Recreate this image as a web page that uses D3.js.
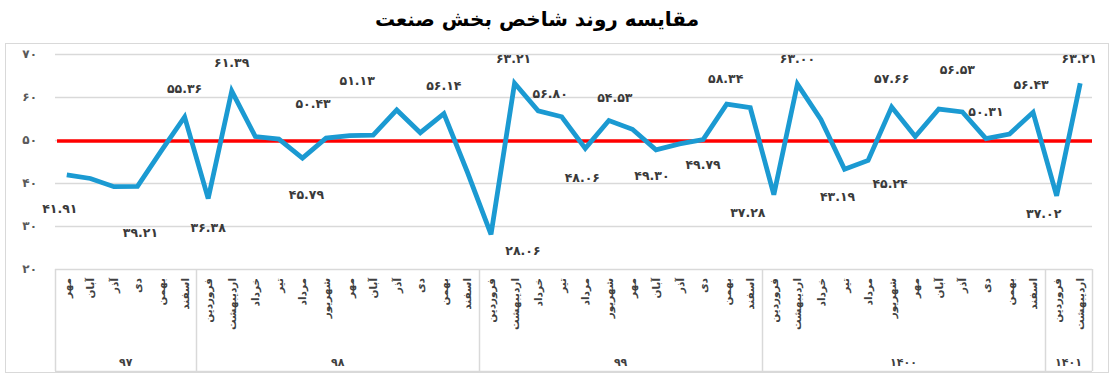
<!DOCTYPE html>
<html>
<head>
<meta charset="utf-8">
<script src="https://cdn.jsdelivr.net/npm/d3@7"></script>
<style>
  body { margin: 0; background: #fff; }
  svg { font-family: "DejaVu Sans", sans-serif; }
</style>
</head>
<body>
<div id="chart"></div>
<script>
// data
var title = "مقایسه روند شاخص بخش صنعت";
var monthNames = ["فروردین", "اردیبهشت", "خرداد", "تیر", "مرداد", "شهریور",
                  "مهر", "آبان", "آذر", "دی", "بهمن", "اسفند"];
var years = ["97", "98", "99", "1400", "1401"];
var yearMonths = [6, 12, 12, 12, 2];   // months shown per year
var yearStart = [6, 0, 0, 0, 0];       // first month index per year

var values = [41.91, 41.05, 39.15, 39.21, 47.4, 55.36,
  36.38, 61.39, 50.8, 50.2, 45.79, 50.43, 51.0, 51.13, 57.0, 51.7, 56.14, 42.5,
  28.06, 63.21, 56.80, 55.4, 48.06, 54.53, 52.5, 47.7, 49.1, 50.1, 58.34, 57.5,
  37.28, 63.00, 54.7, 43.19, 45.24, 57.66, 50.8, 57.2, 56.53, 50.31, 51.4, 56.43,
  37.02, 63.21];
var threshold = 50;
var yTicks = [20, 30, 40, 50, 60, 70];

// data labels: which point, and the text written on the chart
var labelIdx = [0, 3, 5, 6, 7, 10, 11, 13, 16, 18, 19, 20, 22, 23, 25, 27, 28,
                30, 31, 33, 34, 35, 38, 39, 41, 42, 43];
var labelText = ["41.91", "39.21", "55.36", "36.38", "61.39", "45.79", "50.43",
  "51.13", "56.14", "28.06", "63.21", "56.80", "48.06", "54.53", "49.30", "49.79",
  "58.34", "37.28", "63.00", "43.19", "45.24", "57.66", "56.53", "50.31", "56.43",
  "37.02", "63.21"];
// label offsets from their point (layout only)
var labelDx = [-7, 3, 0, 0, 0, 4, -13, -16, 0, 32, -1, 12, -3, 6, -4, 0, -1,
               -26, 0, -7, 22, 0, -5, 0, -2, -13, -1];
var labelDy = [34, 46, -28, 29, -28, 37, -35, -55, -28, 16, -25, -17, 29, -23, 26, 25, -26,
               18, -25, 27, 23, -28, -42, -27, -28, 18, -25];

var fa = function(s) {
  return String(s).replace(/[0-9]/g, function(d) { return "۰۱۲۳۴۵۶۷۸۹"[+d]; });
};

// build categories
var cats = [];
years.forEach(function(y, i) {
  for (var m = 0; m < yearMonths[i]; m++) {
    cats.push({ key: y + "-" + m, year: y, month: monthNames[yearStart[i] + m] });
  }
});
var points = cats.map(function(c, i) { return { key: c.key, value: values[i] }; });

var W = 1119, H = 381;
var plotL = 55, plotR = 1092, plotT = 54, plotB = 269, boxB = 371;

var svg = d3.select("#chart").append("svg")
    .attr("width", W)
    .attr("height", H);

// outer border
svg.append("rect")
    .attr("x", 5.5).attr("y", 43.5)
    .attr("width", 1103).attr("height", 329)
    .attr("fill", "none")
    .attr("stroke", "#d9d9d9");

svg.append("text")
    .attr("x", 537).attr("y", 26)
    .attr("text-anchor", "middle")
    .style("font-size", "20px")
    .style("font-weight", "bold")
    .attr("fill", "#000")
    .text(title);

var x = d3.scaleBand()
    .domain(cats.map(function(c) { return c.key; }))
    .range([plotL, plotR]);
var y = d3.scaleLinear().domain([20, 70]).range([plotB, plotT]);
var cx = function(k) { return x(k) + x.bandwidth() / 2; };

// gridlines
svg.append("g")
  .selectAll("line")
  .data(yTicks)
  .enter().append("line")
    .attr("x1", plotL).attr("x2", plotR)
    .attr("y1", function(d) { return Math.round(y(d)) + 0.5; })
    .attr("y2", function(d) { return Math.round(y(d)) + 0.5; })
    .attr("stroke", "#d9d9d9")
    .attr("stroke-width", 1.5);

// y labels
svg.append("g")
  .selectAll("text")
  .data(yTicks)
  .enter().append("text")
    .attr("x", 37)
    .attr("y", function(d) { return y(d); })
    .attr("dy", "0.35em")
    .attr("text-anchor", "end")
    .style("font-size", "12px")
    .style("font-weight", "bold")
    .attr("fill", "#595959")
    .text(function(d) { return fa(d); });

// category box: year separators
var sepKeys = [];
var acc = 0;
years.forEach(function(yy, i) { sepKeys.push(acc); acc += yearMonths[i]; });
sepKeys.push(acc);
var sepX = function(n) { return n < cats.length ? x(cats[n].key) : plotR; };

svg.append("g")
  .selectAll("line")
  .data(sepKeys)
  .enter().append("line")
    .attr("x1", function(n) { return Math.round(sepX(n)) + 0.5; })
    .attr("x2", function(n) { return Math.round(sepX(n)) + 0.5; })
    .attr("y1", plotB).attr("y2", boxB)
    .attr("stroke", "#d9d9d9")
    .attr("stroke-width", 1.5);
svg.append("line")
    .attr("x1", plotL).attr("x2", plotR)
    .attr("y1", boxB + 0.5).attr("y2", boxB + 0.5)
    .attr("stroke", "#d9d9d9")
    .attr("stroke-width", 1.5);

// month labels (rotated)
svg.append("g")
  .selectAll("text")
  .data(cats)
  .enter().append("text")
    .attr("transform", function(c) {
      return "translate(" + (cx(c.key) + 4) + "," + (plotB + 9) + ") rotate(-90)";
    })
    .attr("text-anchor", "end")
    .style("font-size", "10.5px")
    .style("font-weight", "bold")
    .attr("fill", "#404040")
    .text(function(c) { return c.month; });

// year labels
svg.append("g")
  .selectAll("text")
  .data(years)
  .enter().append("text")
    .attr("x", function(yy, i) { return (sepX(sepKeys[i]) + sepX(sepKeys[i + 1])) / 2; })
    .attr("y", 366)
    .attr("text-anchor", "middle")
    .style("font-size", "11px")
    .style("font-weight", "bold")
    .attr("fill", "#404040")
    .text(function(yy) { return fa(yy); });

// red threshold line
svg.append("line")
    .attr("x1", plotL + 2).attr("x2", plotR)
    .attr("y1", y(threshold) + 1).attr("y2", y(threshold) + 1)
    .attr("stroke", "#ff0000")
    .attr("stroke-width", 3.5);

// series line
var line = d3.line()
    .x(function(d) { return cx(d.key); })
    .y(function(d) { return y(d.value); });

svg.append("path")
    .datum(points)
    .attr("d", line)
    .attr("fill", "none")
    .attr("stroke", "#1b9ad2")
    .attr("stroke-width", 4.8)
    .attr("stroke-linejoin", "miter")
    .attr("stroke-miterlimit", 3);

// data labels
svg.append("g")
  .selectAll("text")
  .data(labelIdx)
  .enter().append("text")
    .attr("x", function(p, i) { return cx(points[p].key) + labelDx[i]; })
    .attr("y", function(p, i) { return y(points[p].value) + labelDy[i]; })
    .attr("dy", "0.35em")
    .attr("text-anchor", "middle")
    .style("font-size", "12.5px")
    .style("font-weight", "bold")
    .attr("fill", "#3a3a3a")
    .text(function(p, i) { return fa(labelText[i]); });
</script>
</body>
</html>
